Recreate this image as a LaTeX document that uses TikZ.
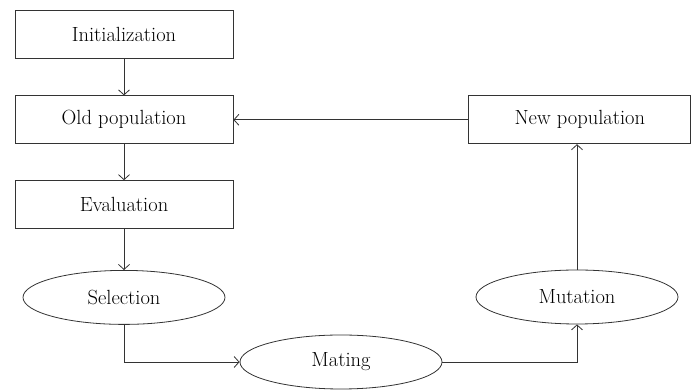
\documentclass[tikz,border=0pt]{standalone}
\usepackage{tikz}
\usetikzlibrary{arrows.meta,positioning,shapes.geometric}
\definecolor{ink}{HTML}{333333}
\tikzset{
  stagebox/.style={
    draw=ink,
    line width=0.8pt,
    align=center,
    minimum width=218pt,
    minimum height=48pt,
    inner sep=3pt,
    font=\fontsize{20.5}{24}\selectfont
  },
  opnode/.style={
    ellipse,
    draw=ink,
    line width=0.8pt,
    align=center,
    minimum width=202pt,
    minimum height=54pt,
    inner sep=0pt,
    font=\fontsize{20.5}{24}\selectfont
  },
  flowarrow/.style={-{Straight Barb[length=5pt,width=11pt]},line width=0.8pt,draw=ink}
}
\begin{document}
\begin{tikzpicture}[x=1pt,y=1pt,node distance=37pt and 37pt]
  \useasboundingbox (0,0) rectangle (691,390);
  \node[stagebox] (init) at (124,356) {Initialization};
  \node[stagebox, below=37pt of init] (oldpop) {Old population};
  \node[stagebox, below=36pt of oldpop] (eval) {Evaluation};
  \node[opnode, below=41pt of eval] (select) {Selection};
  \node[opnode] (mating) at (341,28) {Mating};
  \node[opnode] (mutate) at (577,93) {Mutation};
  \node[stagebox, minimum width=222pt, right=235pt of oldpop] (newpop) {New population};
  \draw[flowarrow] (init) -- (oldpop);
  \draw[flowarrow] (oldpop) -- (eval);
  \draw[flowarrow] (eval) -- (select);
  \draw[flowarrow] (select.south) |- (mating.west);
  \draw[flowarrow] (mating.east) -| (mutate.south);
  \draw[flowarrow] (mutate.north) -- (mutate.north |- newpop.south);
  \draw[flowarrow] (newpop.west) -- (oldpop.east);
\end{tikzpicture}
\end{document}
